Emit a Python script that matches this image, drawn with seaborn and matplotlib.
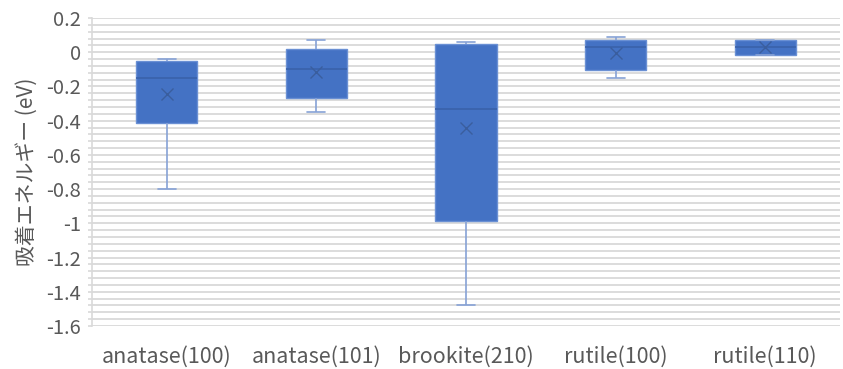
import numpy as np
import pandas as pd
import matplotlib
matplotlib.use("Agg")
import matplotlib.pyplot as plt
from matplotlib.ticker import MultipleLocator
import seaborn as sns

# Adsorption energy summary per surface (eV)
surfaces = ["anatase(100)", "anatase(101)", "brookite(210)", "rutile(100)", "rutile(110)"]
minimum = [-0.80, -0.351, -1.476, -0.153, -0.019]
q1 = [-0.415, -0.268, -0.984, -0.101, -0.015]
median = [-0.148, -0.099, -0.330, 0.031, 0.031]
q3 = [-0.049, 0.020, 0.047, 0.070, 0.074]
maximum = [-0.037, 0.070, 0.058, 0.089, 0.074]
mean = [-0.245, -0.118, -0.440, -0.002, 0.031]

y_ticks = [0.2, 0, -0.2, -0.4, -0.6, -0.8, -1, -1.2, -1.4, -1.6]
y_label = "吸着エネルギー (eV)"

# Five-number summary per surface as long-form rows
rows = []
for i, s in enumerate(surfaces):
    for v in (minimum[i], q1[i], median[i], q3[i], maximum[i]):
        rows.append({"surface": s, "energy": v})
df = pd.DataFrame(rows)
df_mean = pd.DataFrame({"surface": surfaces, "energy": mean})

sns.set_theme(style="white")
plt.rcParams["font.family"] = ["Noto Sans CJK JP", "DejaVu Sans"]

fig = plt.figure(figsize=(8.43, 3.69), dpi=100)
ax = fig.add_axes([92 / 843, 1 - 326 / 369, (840 - 92) / 843, (326 - 18) / 369])

box_fill = "#4472C4"
sns.boxplot(
    data=df, x="surface", y="energy", order=surfaces, ax=ax,
    width=0.41, whis=(0, 100), color=box_fill, saturation=1,
    linewidth=1.2, capwidths=0.12,
    boxprops=dict(facecolor=box_fill, edgecolor="#6A90D4", linewidth=1.0),
    medianprops=dict(color="#3A62AA", linewidth=1.2),
    whiskerprops=dict(color="#86A2D6", linewidth=1.2),
    capprops=dict(color="#86A2D6", linewidth=1.2),
    zorder=3,
)
sns.pointplot(
    data=df_mean, x="surface", y="energy", order=surfaces, ax=ax,
    errorbar=None, linestyle="none", marker="x", color="#3A5E9E",
    markersize=8, markeredgewidth=1.0, zorder=4,
)

ax.set_ylim(-1.6, 0.2)
ax.set_xlim(-0.5, 4.5)
ax.yaxis.set_major_locator(MultipleLocator(0.2))
ax.yaxis.set_minor_locator(MultipleLocator(0.04))
ax.set_yticks(y_ticks)
ax.set_yticklabels([f"{t:g}" for t in y_ticks])
ax.grid(True, which="both", axis="y", color="#D9D9D9", linewidth=1.3, zorder=0)
ax.set_axisbelow(True)

for side in ("top", "right", "bottom"):
    ax.spines[side].set_visible(False)
ax.spines["left"].set_color("#D9D9D9")
ax.spines["left"].set_linewidth(1.2)

ax.tick_params(axis="y", which="both", length=3, color="#D9D9D9", width=1.2,
               labelsize=14.5, labelcolor="#595959", pad=5, left=True)
ax.tick_params(axis="x", length=0, labelsize=15.5, labelcolor="#595959", pad=14)
ax.set_xlabel("")
ax.set_ylabel(y_label, fontsize=15, color="#595959", labelpad=6)

fig.savefig("out.png", dpi=100, facecolor="white")
